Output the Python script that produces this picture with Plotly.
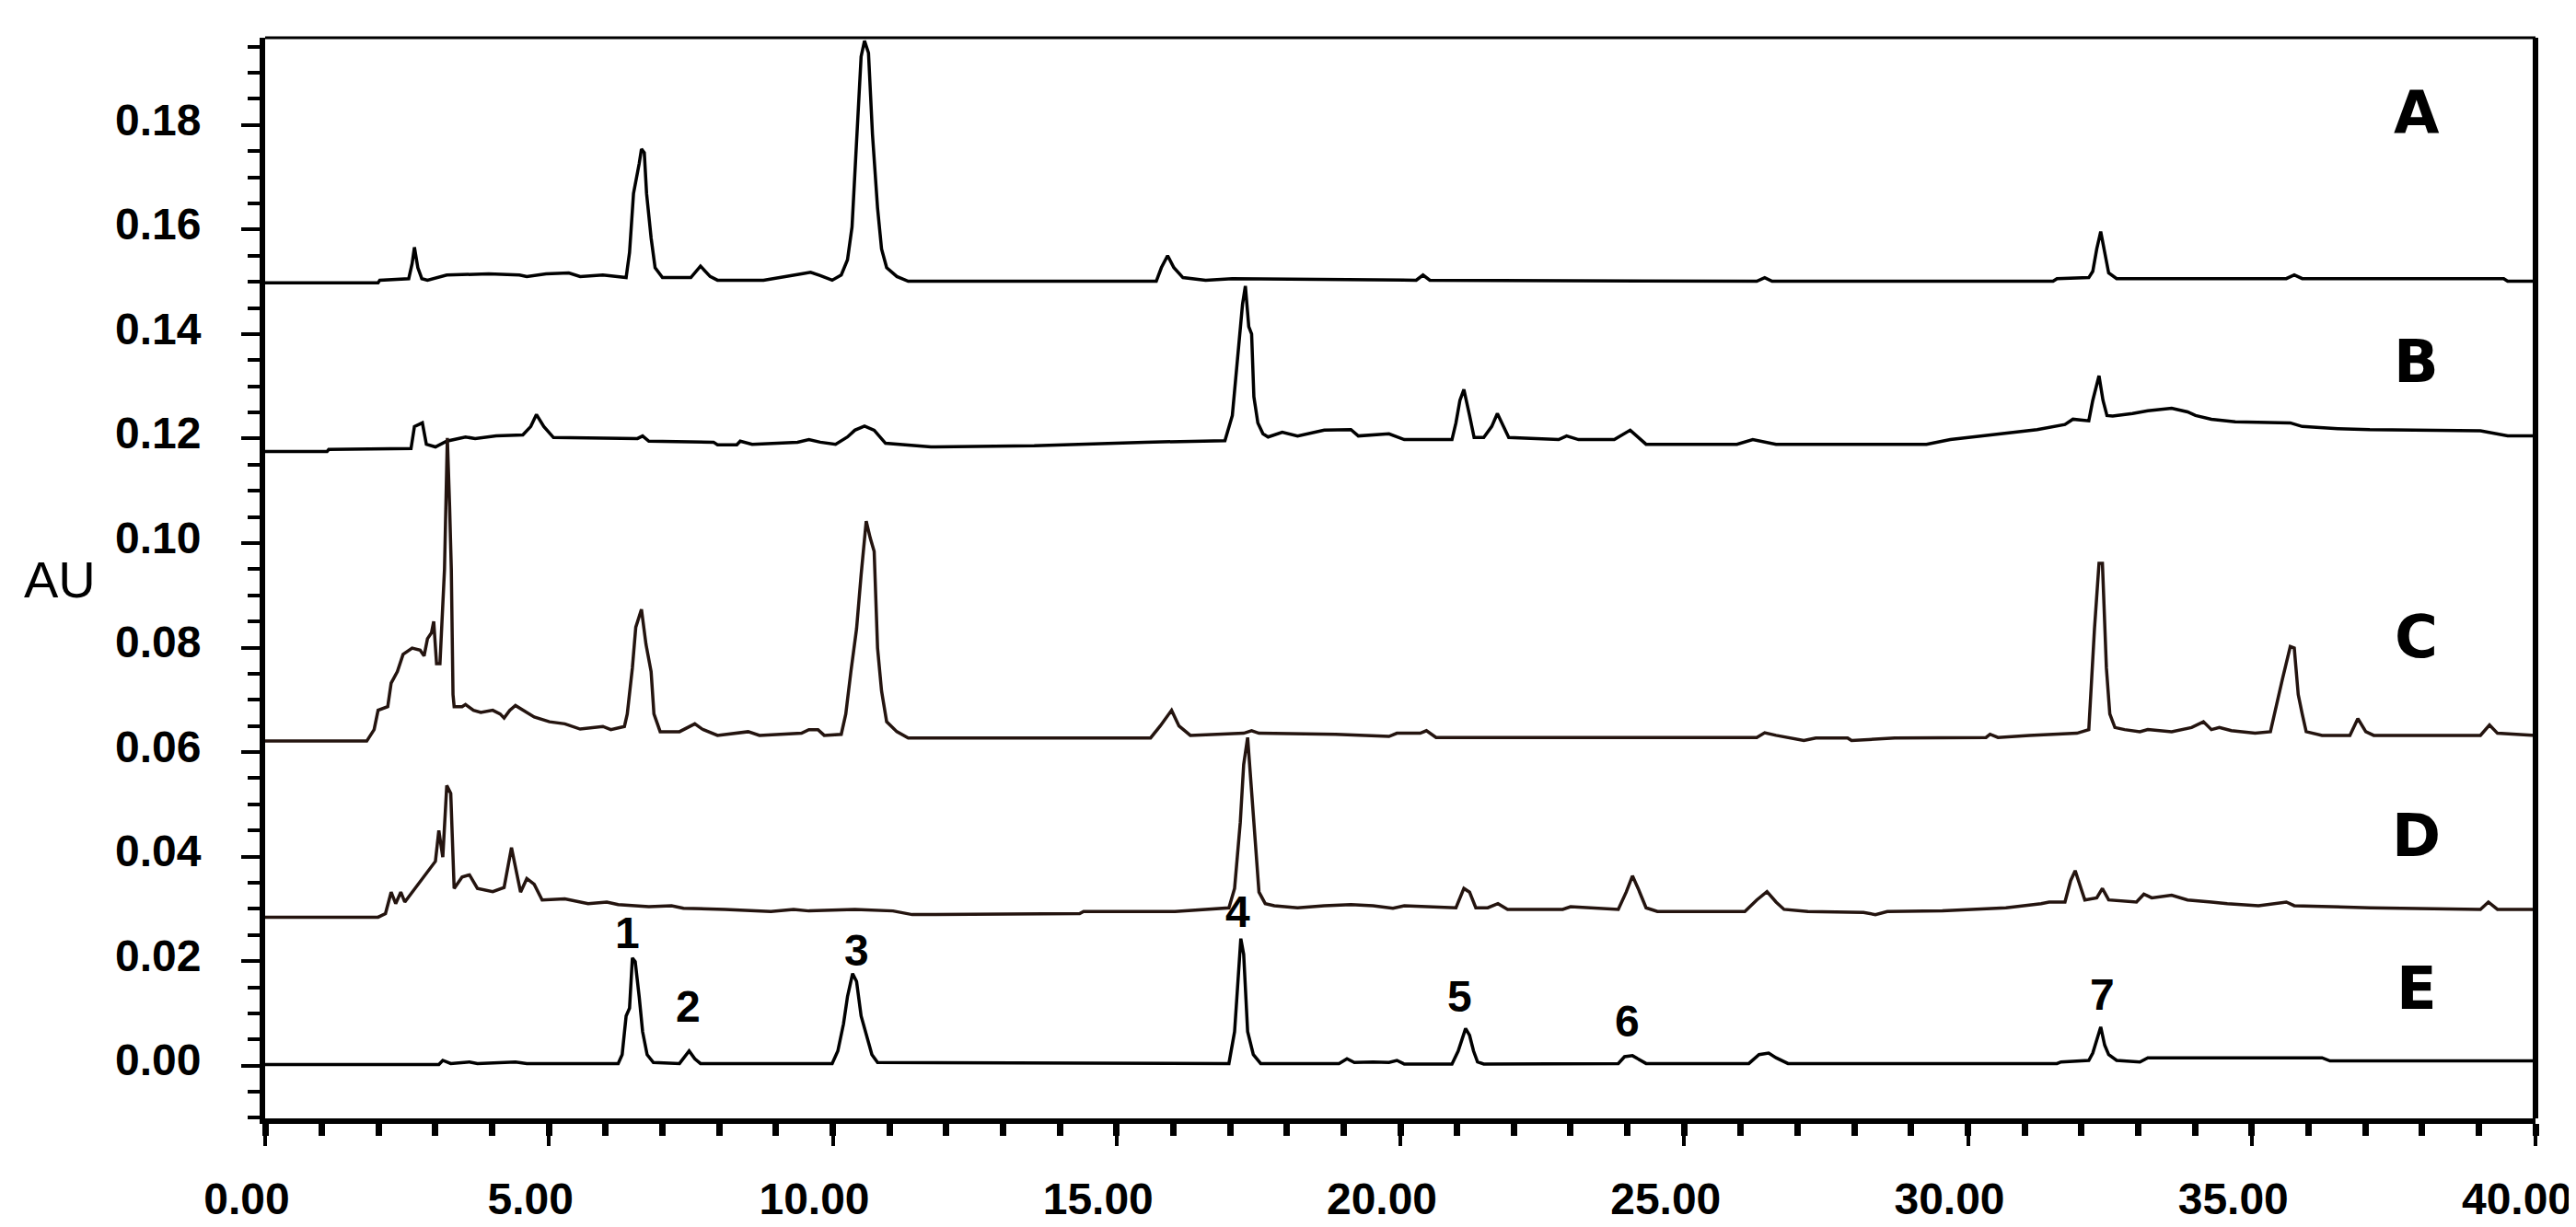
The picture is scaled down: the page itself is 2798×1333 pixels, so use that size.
import plotly.graph_objects as go

# ---------------- data (retention time in min, absorbance in AU) ----------------
tA = [0, 1.99, 2.02, 2.53, 2.59, 2.63, 2.69, 2.76, 2.86, 3.20, 3.94, 4.48, 4.61, 4.95, 5.35, 5.55, 5.95,
      6.36, 6.42, 6.49, 6.59, 6.63, 6.68, 6.72, 6.80, 6.87, 7.00, 7.50, 7.67, 7.84, 7.97, 8.78, 9.45, 9.61,
      9.78, 9.99, 10.15, 10.26, 10.34, 10.42, 10.50, 10.56, 10.63, 10.70, 10.79, 10.86, 10.95, 11.13, 11.33,
      15.70, 15.79, 15.90, 16.01, 16.17, 16.57, 17.04, 19.66, 20.28, 20.40, 20.52, 26.28, 26.42, 26.55,
      31.50, 31.57, 32.13, 32.20, 32.27, 32.34, 32.41, 32.48, 32.62, 35.61, 35.75, 35.89, 39.44, 39.51, 40.0]
yA = [0.1498, 0.1498, 0.1503, 0.1506, 0.1535, 0.1566, 0.1527, 0.1506, 0.1503, 0.1513, 0.1515, 0.1513, 0.1510,
      0.1515, 0.1517, 0.1510, 0.1513, 0.1508, 0.1556, 0.1669, 0.1726, 0.1754, 0.1747, 0.1669, 0.1584, 0.1527,
      0.1508, 0.1508, 0.1530, 0.1510, 0.1503, 0.1503, 0.1515, 0.1518, 0.1512, 0.1503, 0.1513, 0.1542, 0.1605,
      0.1761, 0.1931, 0.1961, 0.1938, 0.1782, 0.1641, 0.1563, 0.1527, 0.1510, 0.1501, 0.1501, 0.1527, 0.1550,
      0.1527, 0.1508, 0.1503, 0.1506, 0.1503, 0.1503, 0.1513, 0.1503, 0.1501, 0.1508, 0.1501, 0.1501, 0.1506,
      0.1508, 0.1520, 0.1563, 0.1596, 0.1556, 0.1517, 0.1506, 0.1506, 0.1513, 0.1506, 0.1506, 0.1501, 0.1501]

tB = [0, 1.09, 1.12, 2.57, 2.63, 2.77, 2.84, 3.00, 3.20, 3.53, 3.70, 4.07, 4.54, 4.68, 4.78, 4.91, 5.08, 6.56,
      6.65, 6.76, 7.90, 7.97, 8.31, 8.37, 8.58, 9.38, 9.58, 9.78, 10.05, 10.26, 10.39, 10.56, 10.73, 10.93,
      11.73, 13.55, 15.50, 16.91, 17.04, 17.14, 17.22, 17.27, 17.33, 17.38, 17.42, 17.49, 17.58, 17.67, 17.92,
      18.19, 18.66, 19.13, 19.26, 19.80, 20.07, 20.91, 20.98, 21.05, 21.12, 21.22, 21.30, 21.47, 21.61, 21.71,
      21.82, 21.91, 22.79, 22.93, 23.14, 23.77, 24.05, 24.33, 25.93, 26.21, 26.62, 29.27, 29.69, 30.25, 30.67,
      31.22, 31.71, 31.85, 32.13, 32.20, 32.31, 32.38, 32.45, 32.55, 32.90, 33.17, 33.59, 33.87, 34.01, 34.29,
      34.71, 35.68, 35.89, 36.52, 37.08, 38.05, 39.03, 39.51, 40.0]
yB = [0.1175, 0.1175, 0.1179, 0.1181, 0.1223, 0.1230, 0.1189, 0.1184, 0.1195, 0.1203, 0.1200, 0.1205, 0.1207,
      0.1223, 0.1246, 0.1223, 0.1202, 0.1200, 0.1205, 0.1195, 0.1193, 0.1188, 0.1188, 0.1195, 0.1189, 0.1193,
      0.1198, 0.1193, 0.1189, 0.1203, 0.1216, 0.1224, 0.1216, 0.1191, 0.1184, 0.1186, 0.1193, 0.1196, 0.1244,
      0.1372, 0.1457, 0.1492, 0.1414, 0.1400, 0.1280, 0.1230, 0.1209, 0.1203, 0.1212, 0.1205, 0.1216, 0.1217,
      0.1205, 0.1209, 0.1198, 0.1198, 0.1230, 0.1273, 0.1294, 0.1244, 0.1202, 0.1202, 0.1223, 0.1248, 0.1223,
      0.1202, 0.1198, 0.1205, 0.1198, 0.1198, 0.1216, 0.1189, 0.1189, 0.1198, 0.1189, 0.1189, 0.1198, 0.1205,
      0.1210, 0.1217, 0.1227, 0.1237, 0.1234, 0.1273, 0.1320, 0.1273, 0.1244, 0.1243, 0.1248, 0.1253, 0.1258,
      0.1251, 0.1244, 0.1237, 0.1232, 0.1230, 0.1223, 0.1219, 0.1217, 0.1216, 0.1215, 0.1205, 0.1205]

tC = [0, 1.79, 1.92, 1.99, 2.16, 2.22, 2.33, 2.43, 2.59, 2.73, 2.80, 2.86, 2.93, 2.97, 3.02, 3.08, 3.16, 3.21,
      3.25, 3.28, 3.31, 3.33, 3.47, 3.53, 3.67, 3.80, 4.01, 4.14, 4.21, 4.31, 4.41, 4.54, 4.74, 5.01, 5.28,
      5.55, 5.95, 6.09, 6.33, 6.38, 6.47, 6.53, 6.63, 6.71, 6.80, 6.85, 6.96, 7.30, 7.57, 7.70, 7.97, 8.51,
      8.71, 9.45, 9.58, 9.74, 9.85, 10.15, 10.23, 10.32, 10.42, 10.50, 10.59, 10.66, 10.73, 10.79, 10.86,
      10.95, 11.13, 11.33, 15.60, 15.77, 15.97, 16.10, 16.30, 17.24, 17.38, 17.51, 18.86, 19.80, 19.94, 20.35,
      20.46, 20.63, 26.28, 26.42, 26.62, 27.11, 27.32, 27.88, 27.95, 28.71, 30.32, 30.39, 30.53, 31.08, 31.92,
      32.13, 32.23, 32.31, 32.37, 32.44, 32.50, 32.59, 32.76, 33.03, 33.17, 33.59, 33.94, 34.15, 34.29, 34.43,
      34.64, 35.06, 35.33, 35.54, 35.68, 35.75, 35.82, 35.89, 35.96, 36.24, 36.73, 36.87, 37.01, 37.15, 39.03,
      39.19, 39.33, 40.0]
yC = [0.0621, 0.0621, 0.0643, 0.0680, 0.0687, 0.0732, 0.0754, 0.0787, 0.0799, 0.0795, 0.0784, 0.0817, 0.0828,
      0.0850, 0.0769, 0.0769, 0.0950, 0.1201, 0.1070, 0.0950, 0.0710, 0.0687, 0.0687, 0.0691, 0.0680, 0.0676,
      0.0680, 0.0673, 0.0665, 0.0680, 0.0689, 0.0680, 0.0667, 0.0658, 0.0654, 0.0644, 0.0649, 0.0643, 0.0649,
      0.0673, 0.0761, 0.0839, 0.0873, 0.0806, 0.0754, 0.0673, 0.0639, 0.0639, 0.0654, 0.0644, 0.0632, 0.0639,
      0.0632, 0.0636, 0.0643, 0.0643, 0.0632, 0.0634, 0.0673, 0.0754, 0.0836, 0.0939, 0.1042, 0.1010, 0.0984,
      0.0799, 0.0717, 0.0658, 0.0639, 0.0627, 0.0627, 0.0650, 0.0680, 0.0650, 0.0632, 0.0636, 0.0641, 0.0636,
      0.0634, 0.0630, 0.0636, 0.0636, 0.0641, 0.0628, 0.0628, 0.0637, 0.0632, 0.0622, 0.0627, 0.0627, 0.0622,
      0.0627, 0.0628, 0.0634, 0.0628, 0.0632, 0.0636, 0.0643, 0.0836, 0.0961, 0.0961, 0.0761, 0.0673, 0.0647,
      0.0643, 0.0639, 0.0643, 0.0639, 0.0647, 0.0658, 0.0643, 0.0647, 0.0641, 0.0636, 0.0639, 0.0739, 0.0802,
      0.0799, 0.0710, 0.0673, 0.0639, 0.0632, 0.0632, 0.0664, 0.0639, 0.0632, 0.0632, 0.0652, 0.0636, 0.0632]

tD = [0, 1.99, 2.12, 2.22, 2.30, 2.39, 2.46, 2.59, 2.73, 2.86, 3.00, 3.06, 3.13, 3.20, 3.27, 3.33, 3.47, 3.60,
      3.74, 4.01, 4.21, 4.34, 4.45, 4.50, 4.61, 4.74, 4.88, 5.28, 5.69, 6.02, 6.22, 6.76, 7.16, 7.37, 8.10,
      8.91, 9.31, 9.58, 10.39, 11.06, 11.40, 14.35, 14.42, 16.03, 16.98, 17.08, 17.18, 17.24, 17.31, 17.38,
      17.45, 17.51, 17.62, 17.78, 18.19, 18.66, 19.13, 19.52, 19.87, 20.07, 20.98, 21.12, 21.22, 21.33, 21.54,
      21.72, 21.89, 22.86, 23.00, 23.84, 23.98, 24.09, 24.19, 24.33, 24.53, 26.07, 26.28, 26.46, 26.62, 26.76,
      27.18, 28.16, 28.37, 28.58, 29.55, 30.67, 31.29, 31.43, 31.71, 31.81, 31.89, 31.99, 32.06, 32.27, 32.37,
      32.48, 32.97, 33.10, 33.24, 33.59, 33.87, 34.29, 34.57, 35.12, 35.61, 35.75, 37.08, 39.03, 39.17, 39.33,
      40.0]
yD = [0.0284, 0.0284, 0.0291, 0.0332, 0.0310, 0.0332, 0.0313, 0.0332, 0.0354, 0.0373, 0.0391, 0.0450, 0.0399,
      0.0536, 0.0521, 0.0339, 0.0361, 0.0365, 0.0339, 0.0333, 0.0341, 0.0417, 0.0354, 0.0332, 0.0358, 0.0347,
      0.0317, 0.0319, 0.0310, 0.0313, 0.0308, 0.0304, 0.0306, 0.0301, 0.0299, 0.0295, 0.0299, 0.0296, 0.0299,
      0.0296, 0.0289, 0.0291, 0.0295, 0.0295, 0.0302, 0.0339, 0.0465, 0.0576, 0.0628, 0.0524, 0.0421, 0.0332,
      0.0310, 0.0306, 0.0302, 0.0306, 0.0308, 0.0306, 0.0301, 0.0306, 0.0302, 0.0339, 0.0332, 0.0302, 0.0302,
      0.0310, 0.0299, 0.0299, 0.0304, 0.0299, 0.0332, 0.0363, 0.0339, 0.0302, 0.0295, 0.0295, 0.0317, 0.0333,
      0.0313, 0.0299, 0.0295, 0.0293, 0.0289, 0.0295, 0.0296, 0.0302, 0.0310, 0.0313, 0.0313, 0.0354, 0.0373,
      0.0339, 0.0317, 0.0321, 0.0339, 0.0317, 0.0313, 0.0328, 0.0321, 0.0326, 0.0317, 0.0313, 0.0310, 0.0306,
      0.0313, 0.0306, 0.0302, 0.0299, 0.0313, 0.0299, 0.0299]

tE = [0, 3.06, 3.13, 3.27, 3.60, 3.74, 4.41, 4.61, 6.22, 6.29, 6.36, 6.42, 6.47, 6.52, 6.59, 6.65, 6.73, 6.84,
      7.30, 7.37, 7.47, 7.57, 7.67, 9.99, 10.09, 10.19, 10.26, 10.35, 10.42, 10.50, 10.59, 10.69, 10.79,
      16.98, 17.08, 17.15, 17.19, 17.24, 17.31, 17.41, 17.54, 18.92, 19.06, 19.19, 19.52, 19.80, 19.94, 20.07,
      20.91, 21.02, 21.08, 21.15, 21.22, 21.29, 21.36, 21.47, 23.84, 23.95, 24.09, 24.19, 24.33, 26.14, 26.32,
      26.49, 26.62, 26.83, 31.57, 31.64, 32.13, 32.20, 32.27, 32.34, 32.41, 32.48, 32.62, 33.03, 33.17, 36.24,
      36.38, 40.0]
yE = [0.0002, 0.0002, 0.0010, 0.0004, 0.0007, 0.0004, 0.0007, 0.0004, 0.0004, 0.0021, 0.0095, 0.0110, 0.0206,
      0.0199, 0.0132, 0.0065, 0.0021, 0.0006, 0.0004, 0.0013, 0.0028, 0.0013, 0.0004, 0.0004, 0.0028, 0.0080,
      0.0132, 0.0176, 0.0161, 0.0095, 0.0058, 0.0021, 0.0006, 0.0004, 0.0065, 0.0169, 0.0243, 0.0213, 0.0065,
      0.0021, 0.0004, 0.0004, 0.0013, 0.0006, 0.0007, 0.0006, 0.0010, 0.0003, 0.0003, 0.0028, 0.0050, 0.0071,
      0.0058, 0.0028, 0.0007, 0.0003, 0.0004, 0.0017, 0.0019, 0.0013, 0.0004, 0.0004, 0.0021, 0.0024, 0.0015,
      0.0004, 0.0004, 0.0007, 0.0010, 0.0024, 0.0050, 0.0074, 0.0039, 0.0021, 0.0010, 0.0007, 0.0015, 0.0015,
      0.0009, 0.0009]

trace_names = ["A", "B", "C", "D", "E"]
trace_label_t = [37.9, 37.9, 37.9, 37.9, 37.9]
trace_label_y = [0.1822, 0.1347, 0.0821, 0.0439, 0.0147]

peak_labels = ["1", "2", "3", "4", "5", "6", "7"]
peak_label_t = [6.38, 7.46, 10.42, 17.14, 21.05, 24.0, 32.37]
peak_label_y = [0.0254, 0.0113, 0.0221, 0.0295, 0.0132, 0.0084, 0.0136]

x_tickvals = [0, 5, 10, 15, 20, 25, 30, 35, 40]
y_tickvals = [0.00, 0.02, 0.04, 0.06, 0.08, 0.10, 0.12, 0.14, 0.16, 0.18]

# ---------------- figure ----------------
SANS = "Liberation Sans"
WIDE = "DejaVu Sans"
series = [(tA, yA, "#000000"), (tB, yB, "#000000"), (tC, yC, "#24140f"),
          (tD, yD, "#24140f"), (tE, yE, "#000000")]

fig = go.Figure()
for (t, y, c), name in zip(series, trace_names):
    fig.add_trace(go.Scatter(x=t, y=y, mode="lines", name=name,
                             line=dict(color=c, width=3.5), showlegend=False))

annotations = []
for n, tx, ty in zip(trace_names, trace_label_t, trace_label_y):
    annotations.append(dict(x=tx, y=ty, text=f"<b>{n}</b>", showarrow=False,
                            xanchor="center", yanchor="middle",
                            font=dict(family=WIDE, size=64, color="#000")))
for n, tx, ty in zip(peak_labels, peak_label_t, peak_label_y):
    annotations.append(dict(x=tx, y=ty, text=f"<b>{n}</b>", showarrow=False,
                            xanchor="center", yanchor="middle",
                            font=dict(family=SANS, size=48, color="#000")))
annotations.append(dict(x=-0.0904, y=0.499, xref="paper", yref="paper", text="AU",
                        showarrow=False, xanchor="center", yanchor="middle",
                        font=dict(family=SANS, size=56, color="#000")))

shapes = [
    dict(type="line", xref="paper", yref="paper", x0=0, x1=1, y0=1, y1=1,
         line=dict(color="#000", width=3)),
    dict(type="line", xref="paper", yref="paper", x0=1, x1=1, y0=0, y1=1,
         line=dict(color="#000", width=6)),
]

fig.update_layout(
    width=2798, height=1333,
    margin=dict(l=280, r=50, t=33, b=117),
    paper_bgcolor="white", plot_bgcolor="white",
    annotations=annotations, shapes=shapes,
    xaxis=dict(range=[0, 40], tickvals=x_tickvals, tickformat=".2f",
               showgrid=False, zeroline=False,
               showline=True, linecolor="#000", linewidth=6,
               ticks="outside", ticklen=24, tickwidth=4, tickcolor="#000",
               minor=dict(dtick=1, tick0=0, ticks="outside", ticklen=13, tickwidth=7, tickcolor="#000"),
               tickfont=dict(family=SANS, size=48, color="#000", weight="bold"),
               ticklabelshift=-20, ticklabelstandoff=16),
    yaxis=dict(range=[-0.0101, 0.1967], tickvals=y_tickvals, tickformat=".2f",
               showgrid=False, zeroline=False,
               showline=True, linecolor="#000", linewidth=6,
               ticks="outside", ticklen=20, tickwidth=4, tickcolor="#000",
               minor=dict(dtick=0.005, tick0=0, ticks="outside", ticklen=13, tickwidth=4, tickcolor="#000"),
               tickfont=dict(family=SANS, size=48, color="#000", weight="bold"),
               ticklabelshift=-6, ticklabelstandoff=34),
)

fig.write_html("out.html")
